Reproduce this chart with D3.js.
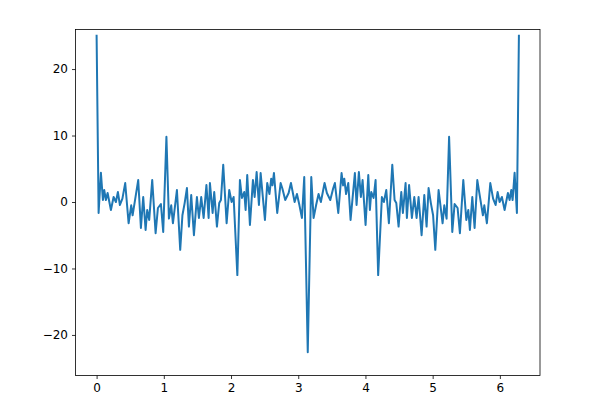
<!DOCTYPE html>
<html>
<head>
<meta charset="utf-8">
<script src="https://cdn.jsdelivr.net/npm/d3@7"></script>
<style>
  html, body { margin: 0; padding: 0; background: #fff; }
  svg text { font-family: "DejaVu Sans", sans-serif; }
</style>
</head>
<body>
<svg id="chart" width="600" height="400"></svg>
<script>
// ---- data ----
const xValues = [
  0, 0.0298, 0.0640, 0.0938, 0.1131, 0.1384, 0.1637, 0.2128, 0.2530, 0.2872,
  0.3170, 0.3467, 0.3839, 0.4256, 0.4762, 0.5149, 0.5357, 0.6190, 0.6592, 0.6935,
  0.7292, 0.7530, 0.7827, 0.8274, 0.8780, 0.9122, 0.9568, 0.9911, 1.0387, 1.0759,
  1.1101, 1.1354, 1.1949, 1.2440, 1.2768, 1.3095, 1.3438, 1.3735, 1.4077, 1.4479,
  1.4926, 1.5223, 1.5565, 1.5923, 1.6339, 1.6667, 1.6860, 1.7262, 1.7500, 1.7902,
  1.8244, 1.8497, 1.8839, 1.9345, 1.9732, 2.0089, 2.0387, 2.0940, 2.1324, 2.1622,
  2.1964, 2.2173, 2.2411, 2.2813, 2.3259, 2.3512, 2.3810, 2.4152, 2.4405, 2.5045,
  2.5387, 2.5714, 2.5982, 2.6161, 2.6384, 2.6875, 2.7381, 2.7649, 2.8065, 2.8571,
  2.8914, 2.9464, 2.9807, 3.0179, 3.0551, 3.0893, 3.1416,
  3.1939, 3.2281, 3.2653, 3.3025, 3.3368, 3.3918, 3.4261, 3.4767, 3.5183, 3.5451,
  3.5957, 3.6448, 3.6671, 3.6850, 3.7118, 3.7445, 3.7787, 3.8427, 3.8680, 3.9022,
  3.9320, 3.9573, 4.0019, 4.0421, 4.0659, 4.0868, 4.1210, 4.1508, 4.1892, 4.2445,
  4.2743, 4.3100, 4.3487, 4.3993, 4.4335, 4.4588, 4.4930, 4.5332, 4.5570, 4.5972,
  4.6165, 4.6493, 4.6909, 4.7267, 4.7609, 4.7906, 4.8353, 4.8755, 4.9097, 4.9394,
  4.9737, 5.0064, 5.0392, 5.0883, 5.1478, 5.1731, 5.2073, 5.2445, 5.2921, 5.3264,
  5.3710, 5.4052, 5.4558, 5.5005, 5.5302, 5.5540, 5.5897, 5.6240, 5.6642, 5.7475,
  5.7683, 5.8070, 5.8576, 5.8993, 5.9365, 5.9662, 5.9960, 6.0302, 6.0704, 6.1195,
  6.1448, 6.1701, 6.1894, 6.2192, 6.2534, 6.2832
];
const yValues = [
  25.0, -1.65, 4.4, 0.3, 1.8, 0.3, 1.35, -1.2, 0.75, 0.0,
  1.5, -0.45, 0.5, 2.85, -3.2, -0.5, -2.0, 3.3, -3.9, 0.75,
  -4.2, -1.2, -2.7, 3.3, -4.7, -0.9, -0.3, -4.5, 9.8, -2.5,
  -0.5, -3.2, 1.8, -7.2, -2.0, -0.2, 2.1, -3.7, 1.05, -5.0,
  0.75, -2.4, 0.75, -2.4, 2.55, -2.4, 2.85, -1.65, 1.5, -3.7,
  -0.15, 0.3, 5.6, -3.2, 1.8, 0.0, 0.75, -11.0, 3.3, 0.6,
  1.5, -1.2, 4.05, -3.45, 3.3, 0.75, 4.5, -0.45, 4.35, -2.7,
  2.85, 1.2, 3.5, 2.5, 4.35, -1.65, 2.85, 2.0, 0.3, 1.35,
  2.85, 0.0, 1.2, -0.5, -2.4, 3.75, -22.6,
  3.75, -2.4, -0.5, 1.2, 0.0, 2.85, 1.35, 0.3, 2.0, 2.85,
  -1.65, 4.35, 2.5, 3.5, 1.2, 2.85, -2.7, 4.35, -0.45, 4.5,
  0.75, 3.3, -3.45, 4.05, -1.2, 1.5, 0.6, 3.3, -11.0, 0.75,
  0.0, 1.8, -3.2, 5.6, 0.3, -0.15, -3.7, 1.5, -1.65, 2.85,
  -2.4, 2.55, -2.4, 0.75, -2.4, 0.75, -5.0, 1.05, -3.7, 2.1,
  -0.2, -2.0, -7.2, 1.8, -3.2, -0.5, -2.5, 9.8, -4.5, -0.3,
  -0.9, -4.7, 3.3, -2.7, -1.2, -4.2, 0.75, -3.9, 3.3, -2.0,
  -0.5, -3.2, 2.85, 0.5, -0.45, 1.5, 0.0, 0.75, -1.2, 1.35,
  0.3, 1.8, 0.3, 4.4, -1.65, 25.0
];
const xTicks = [0, 1, 2, 3, 4, 5, 6];
const yTicks = [-20, -10, 0, 10, 20];

// ---- layout ----
const svg = d3.select("#chart");
const plotLeft = 75.5, plotRight = 540, plotTop = 29.5, plotBottom = 375.5;

const x = d3.scaleLinear().domain([-0.314, 6.597]).range([plotLeft, plotRight]);
const y = d3.scaleLinear().domain([-26.1, 25.95]).range([plotBottom, plotTop]);

const points = xValues.map((v, i) => [v, yValues[i]]);

svg.append("path")
  .datum(points)
  .attr("fill", "none")
  .attr("stroke", "#1f77b4")
  .attr("stroke-width", 2)
  .attr("stroke-linejoin", "round")
  .attr("stroke-linecap", "square")
  .attr("d", d3.line().x(d => x(d[0])).y(d => y(d[1])));

const xAxis = svg.append("g")
  .attr("transform", `translate(0,${plotBottom})`)
  .call(d3.axisBottom(x).tickValues(xTicks).tickFormat(d3.format("d")).tickSize(3.5).tickPadding(4));
const yAxis = svg.append("g")
  .attr("transform", `translate(${plotLeft},0)`)
  .call(d3.axisLeft(y).tickValues(yTicks).tickFormat(d3.format("d")).tickSize(3.5).tickPadding(4));

[xAxis, yAxis].forEach(g => {
  g.select(".domain").remove();
  g.selectAll(".tick line").attr("stroke", "#000").attr("stroke-width", 0.8);
  g.selectAll(".tick text").attr("fill", "#000").style("font-size", "12px")
    .style("font-family", "'DejaVu Sans', sans-serif");
});

svg.append("rect")
  .attr("x", plotLeft).attr("y", plotTop)
  .attr("width", plotRight - plotLeft).attr("height", plotBottom - plotTop)
  .attr("fill", "none").attr("stroke", "#000").attr("stroke-width", 0.8);
</script>
</body>
</html>
